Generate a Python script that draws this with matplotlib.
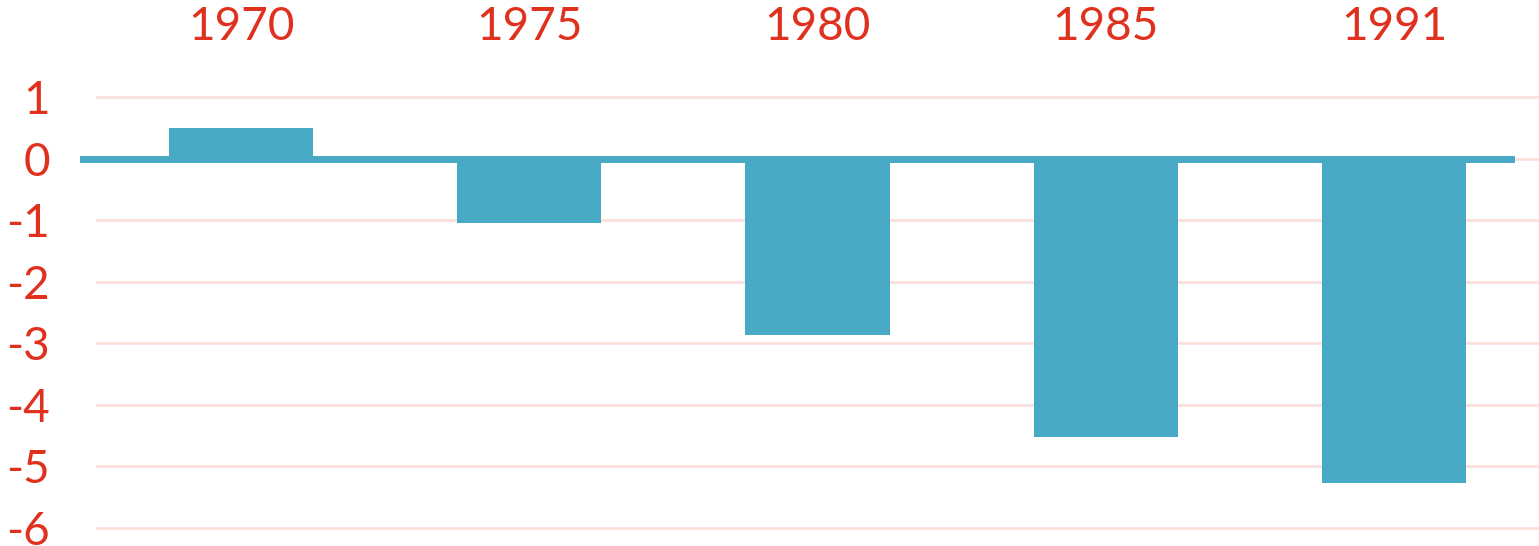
import matplotlib.pyplot as plt

# data
years = ['1970', '1975', '1980', '1985', '1991']
values = [0.5, -1.05, -2.87, -4.52, -5.27]
yticks = [1, 0, -1, -2, -3, -4, -5, -6]

red = '#E0301E'
teal = '#48A9C5'

plt.rcParams['font.family'] = ['Lato', 'DejaVu Sans']

fig = plt.figure(figsize=(15.39, 5.46), dpi=100)
ax = fig.add_axes([97 / 1539, 18 / 546, 1441 / 1539, 431 / 546])

x = range(len(years))
ax.bar(x, values, width=0.5, color=teal, zorder=2)
ax.axhline(0, xmin=-0.0097, xmax=0.981, color=teal, lw=5, zorder=3, clip_on=False)

ax.set_xlim(-0.5, 4.5)
ax.set_ylim(-6, 1)
ax.set_yticks(yticks)
ax.set_yticklabels([str(v) for v in yticks])
ax.set_xticks(list(x))
ax.set_xticklabels(years)
ax.xaxis.tick_top()
ax.tick_params(axis='x', length=0, pad=35, labelsize=33, labelcolor=red)
ax.tick_params(axis='y', length=0, pad=34, labelsize=33, labelcolor=red)
ax.grid(axis='y', color='#FBE0DC', lw=2, zorder=0)
for gl in ax.get_ygridlines():
    gl.set_clip_on(False)
for s in ax.spines.values():
    s.set_visible(False)

fig.savefig('out.png', dpi=100)
